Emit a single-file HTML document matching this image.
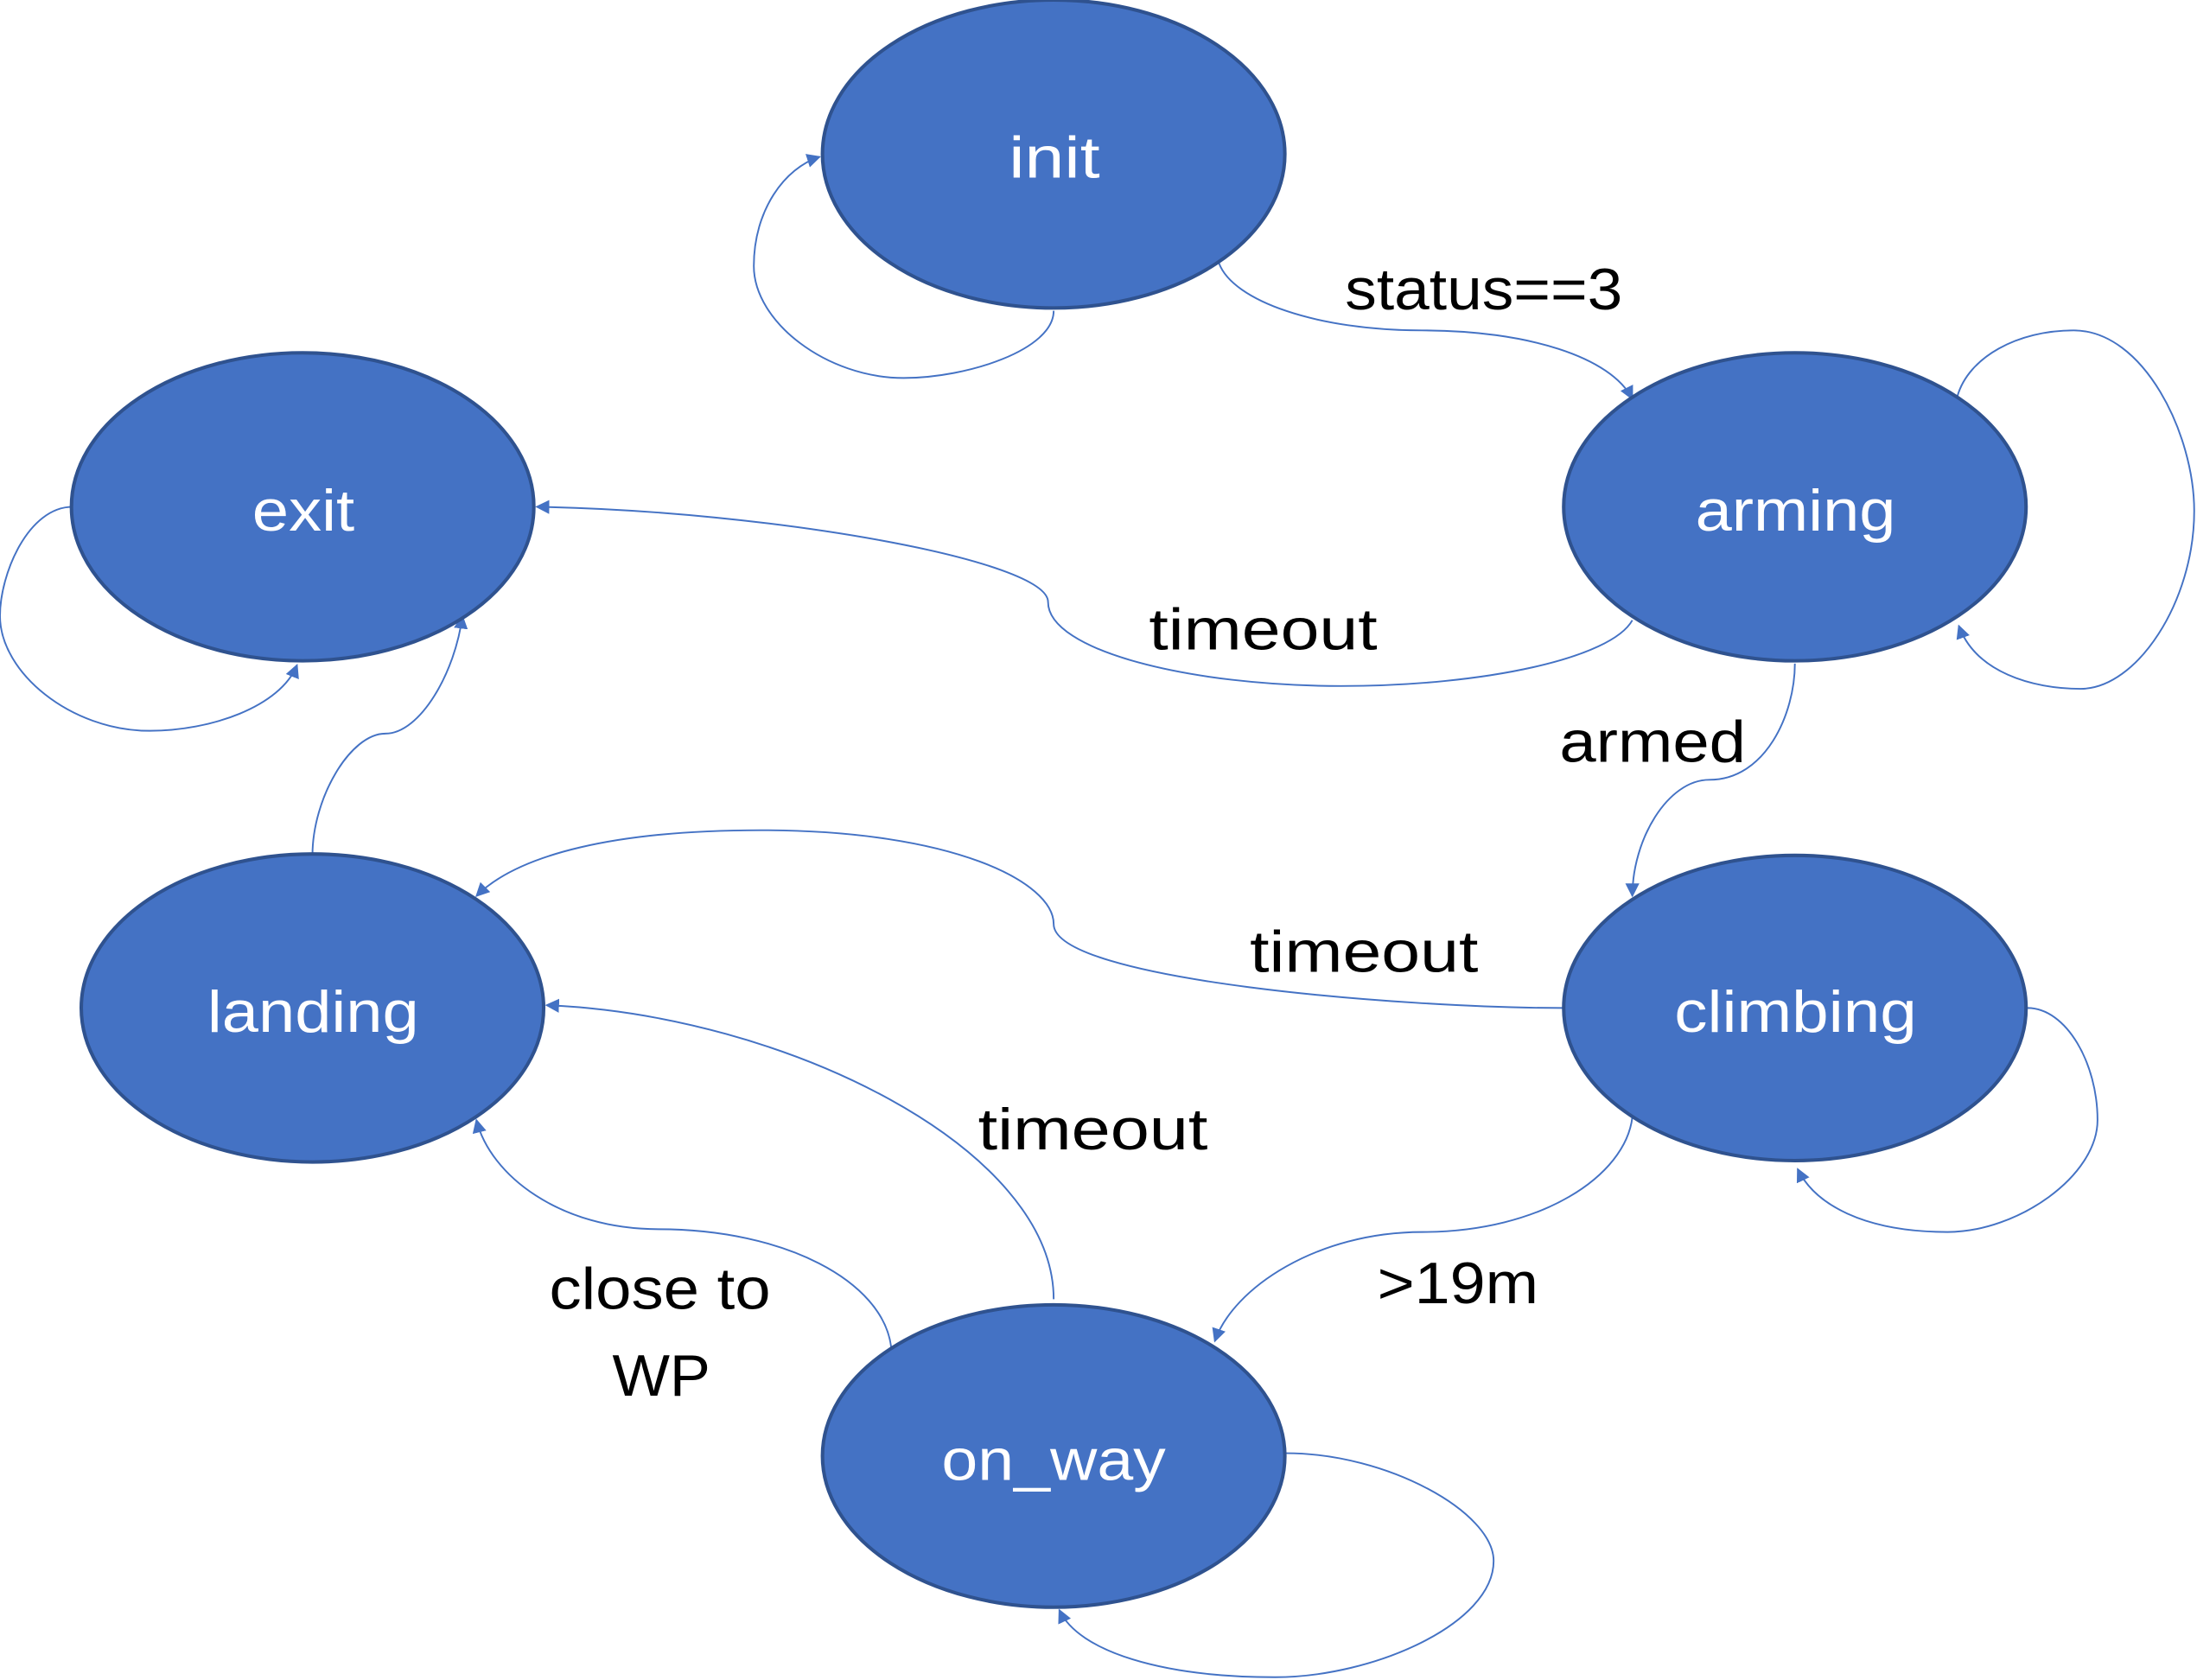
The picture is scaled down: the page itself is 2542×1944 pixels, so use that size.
<!DOCTYPE html>
<html><head><meta charset="utf-8"><style>
html,body{margin:0;padding:0;background:#fff;}
svg{display:block;}
</style></head><body>
<svg width="2542" height="1944" viewBox="0 0 1568 1200" preserveAspectRatio="none" xmlns="http://www.w3.org/2000/svg">
<defs>
<marker id="a" markerWidth="10" markerHeight="10" refX="9" refY="5" orient="auto" markerUnits="userSpaceOnUse">
<path d="M0,0 L10,5 L0,10 z" fill="#4472C4"/>
</marker>
</defs>
<g fill="none" stroke="#4472C4" stroke-width="1.2" marker-end="url(#a)">
<path d="M752,222 C752,250 690,270 645,270 C590,270 538,230 538,190 C538,150 560,120 585,112"/>
<path d="M870,188 C880,215 940,236 1015,236 C1090,236 1150,255 1165,285"/>
<path d="M1397,283 C1405,255 1440,236 1480,236 C1530,236 1566,310 1566,365 C1566,430 1525,492 1485,492 C1450,492 1410,480 1398,447"/>
<path d="M1165,443 C1150,470 1060,490 957,490 C850,490 748,465 748,430 C748,400 550,365 383,362"/>
<path d="M1281,474 C1281,510 1260,557 1220,557 C1190,557 1165,600 1165,640"/>
<path d="M1447,720 C1475,720 1497,760 1497,800 C1497,840 1440,880 1390,880 C1330,880 1295,860 1283,835"/>
<path d="M1116,720 C1000,720 752,700 752,660 C752,630 680,593 543,593 C440,593 370,610 340,640"/>
<path d="M1165,798 C1160,840 1100,880 1015,880 C940,880 880,920 867,958"/>
<path d="M752,928 C752,820 560,725 390,718"/>
<path d="M636,962 C630,915 560,878 470,878 C400,878 350,840 340,800"/>
<path d="M918,1038 C990,1038 1066,1080 1066,1115 C1066,1160 980,1198 910,1198 C830,1198 770,1180 756,1150"/>
<path d="M223,611 C223,570 250,524 275,524 C300,524 325,480 330,440"/>
<path d="M52,362 C20,362 0,410 0,440 C0,480 50,522 107,522 C150,522 200,505 212,475"/>
</g>
<g fill="#4472C4" stroke="#2F528F" stroke-width="2.5">
<ellipse cx="752" cy="110" rx="165" ry="110"/>
<ellipse cx="1281" cy="362" rx="165" ry="110"/>
<ellipse cx="216" cy="362" rx="165" ry="110"/>
<ellipse cx="1281" cy="720" rx="165" ry="109"/>
<ellipse cx="223" cy="720" rx="165" ry="110"/>
<ellipse cx="752" cy="1040" rx="165" ry="108"/>
</g>
<g font-family="'Liberation Sans', sans-serif" font-size="42" fill="#fff" lengthAdjust="spacingAndGlyphs">
<text x="720" y="127" textLength="65" lengthAdjust="spacingAndGlyphs">init</text>
<text x="1210" y="379" textLength="143" lengthAdjust="spacingAndGlyphs">arming</text>
<text x="180" y="379" textLength="73" lengthAdjust="spacingAndGlyphs">exit</text>
<text x="1195" y="737" textLength="173" lengthAdjust="spacingAndGlyphs">climbing</text>
<text x="148" y="737" textLength="151" lengthAdjust="spacingAndGlyphs">landing</text>
<text x="672" y="1057" textLength="160" lengthAdjust="spacingAndGlyphs">on_way</text>
</g>
<g font-family="'Liberation Sans', sans-serif" font-size="42" fill="#000">
<text x="960" y="221" textLength="198" lengthAdjust="spacingAndGlyphs">status==3</text>
<text x="820" y="464" textLength="163" lengthAdjust="spacingAndGlyphs">timeout</text>
<text x="1113" y="544" textLength="133" lengthAdjust="spacingAndGlyphs">armed</text>
<text x="892" y="694" textLength="163" lengthAdjust="spacingAndGlyphs">timeout</text>
<text x="698" y="821" textLength="164" lengthAdjust="spacingAndGlyphs">timeout</text>
<text x="983" y="931" textLength="115" lengthAdjust="spacingAndGlyphs">&gt;19m</text>
<text x="392" y="935" textLength="158" lengthAdjust="spacingAndGlyphs">close to</text>
<text x="437" y="997" textLength="70" lengthAdjust="spacingAndGlyphs">WP</text>
</g>
</svg>
</body></html>
